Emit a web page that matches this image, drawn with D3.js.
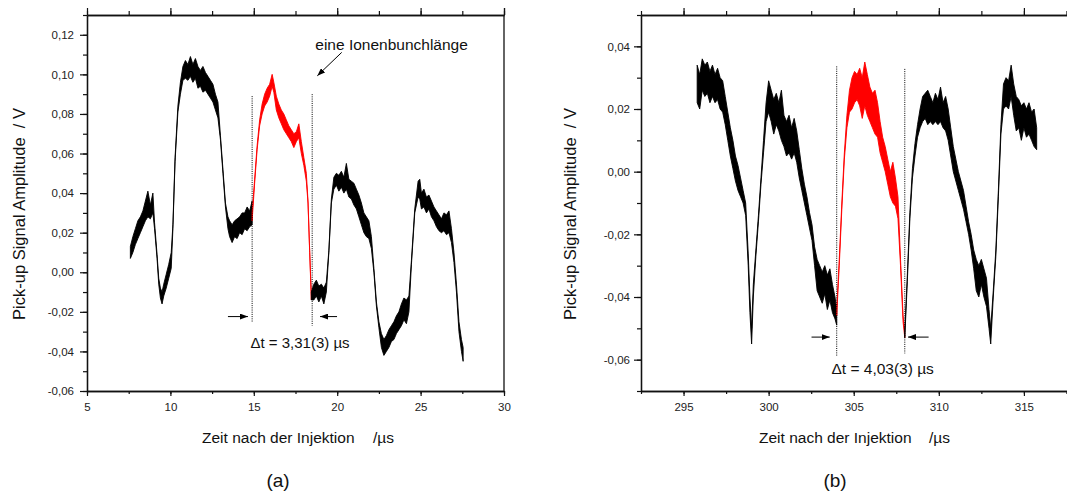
<!DOCTYPE html>
<meta charset="utf-8">
<script src="https://d3js.org/d3.v7.min.js"></script>
<style>
body{margin:0;background:#fff}
svg{display:block;font-family:"Liberation Sans",Arial,sans-serif}
.tick line{stroke:#111;stroke-width:1.2}
.domain{stroke:#111;stroke-width:1.3}
.tick text{fill:#222;font-size:11.5px;font-family:"Liberation Sans",Arial,sans-serif}
</style>
<body>
<svg id="fig" width="1067" height="497"></svg>
<script>
// traces: [time µs, lower edge V, upper edge V] (noise band)
var aBlack1 = [[7.60,0.007,0.013],[7.75,0.010,0.018],[7.90,0.014,0.022],[8.05,0.017,0.026],[8.20,0.020,0.028],
  [8.35,0.023,0.031],[8.50,0.026,0.036],[8.65,0.028,0.041],[8.80,0.027,0.034],[8.95,0.030,0.040],
  [9.05,0.022,0.025],[9.20,0.007,0.009],[9.30,-0.006,-0.003],[9.40,-0.013,-0.008],[9.50,-0.016,-0.010],
  [9.60,-0.012,-0.006],[9.75,-0.008,-0.001],[9.90,-0.003,0.004],[10.05,0.002,0.010],[10.15,0.022,0.024],
  [10.28,0.056,0.058],[10.45,0.081,0.084],[10.60,0.090,0.096],[10.75,0.097,0.104],[10.90,0.098,0.107],
  [11.05,0.097,0.105],[11.20,0.099,0.109],[11.35,0.096,0.105],[11.50,0.098,0.108],[11.65,0.093,0.104],
  [11.80,0.094,0.102],[11.95,0.091,0.104],[12.10,0.092,0.101],[12.25,0.090,0.099],[12.40,0.088,0.097],
  [12.55,0.086,0.095],[12.70,0.082,0.090],[12.85,0.078,0.086],[13.00,0.067,0.069],[13.15,0.050,0.052],
  [13.30,0.033,0.035],[13.45,0.022,0.028],[13.55,0.018,0.026],[13.70,0.015,0.024],[13.85,0.018,0.026],
  [14.00,0.017,0.027],[14.15,0.020,0.028],[14.30,0.019,0.030],[14.45,0.022,0.030],[14.60,0.021,0.033],
  [14.75,0.023,0.031],[14.90,0.024,0.036]];
var aRed = [[14.90,0.026,0.030],[15.05,0.045,0.047],[15.20,0.062,0.064],[15.35,0.074,0.077],[15.50,0.080,0.085],
  [15.65,0.084,0.090],[15.80,0.086,0.093],[15.95,0.089,0.095],[16.10,0.094,0.100],[16.20,0.091,0.096],
  [16.35,0.082,0.089],[16.50,0.078,0.085],[16.65,0.075,0.082],[16.80,0.072,0.080],[16.95,0.070,0.077],
  [17.10,0.068,0.074],[17.25,0.066,0.072],[17.40,0.063,0.070],[17.55,0.066,0.071],[17.70,0.068,0.075],
  [17.85,0.060,0.066],[18.00,0.054,0.058],[18.15,0.046,0.050],[18.25,0.035,0.036],[18.35,0.010,0.011],
  [18.45,-0.014,-0.012]];
var aBlack2 = [[18.45,-0.014,-0.010],[18.60,-0.014,-0.006],[18.75,-0.012,-0.004],[18.90,-0.015,-0.007],
  [19.05,-0.012,-0.006],[19.20,-0.016,-0.008],[19.35,-0.010,-0.005],[19.50,0.010,0.011],[19.65,0.035,0.037],
  [19.80,0.042,0.048],[19.95,0.044,0.050],[20.10,0.041,0.049],[20.25,0.043,0.051],[20.40,0.040,0.048],
  [20.55,0.042,0.055],[20.70,0.038,0.047],[20.85,0.037,0.046],[21.00,0.034,0.045],[21.15,0.032,0.042],
  [21.30,0.028,0.039],[21.45,0.024,0.035],[21.60,0.020,0.030],[21.75,0.018,0.028],[21.90,0.017,0.026],
  [22.05,0.012,0.018],[22.20,0.000,0.002],[22.35,-0.017,-0.015],[22.50,-0.028,-0.025],[22.65,-0.038,-0.031],
  [22.80,-0.042,-0.034],[22.95,-0.040,-0.032],[23.10,-0.038,-0.029],[23.25,-0.035,-0.027],[23.40,-0.034,-0.025],
  [23.55,-0.031,-0.022],[23.70,-0.029,-0.020],[23.85,-0.027,-0.016],[24.00,-0.024,-0.013],[24.15,-0.026,-0.014],
  [24.30,-0.020,-0.012],[24.45,0.004,0.006],[24.65,0.030,0.032],[24.85,0.038,0.046],[24.95,0.037,0.047],
  [25.05,0.032,0.040],[25.20,0.033,0.042],[25.35,0.030,0.038],[25.50,0.032,0.039],[25.65,0.028,0.036],
  [25.80,0.026,0.033],[25.95,0.023,0.031],[26.10,0.021,0.029],[26.25,0.020,0.027],[26.40,0.021,0.030],
  [26.55,0.019,0.029],[26.70,0.020,0.031],[26.85,0.015,0.022],[27.00,0.005,0.010],[27.15,-0.010,-0.006],
  [27.30,-0.030,-0.025],[27.45,-0.040,-0.034],[27.55,-0.045,-0.038]];

var bBlack1 = [[295.80,0.022,0.034],[295.95,0.020,0.031],[296.10,0.026,0.036],[296.25,0.024,0.034],
  [296.40,0.025,0.035],[296.55,0.022,0.032],[296.70,0.024,0.034],[296.85,0.022,0.031],[297.00,0.023,0.033],
  [297.15,0.020,0.030],[297.30,0.019,0.029],[297.45,0.015,0.024],[297.60,0.010,0.019],[297.75,0.005,0.014],
  [297.90,0.001,0.010],[298.05,-0.003,0.005],[298.20,-0.006,0.002],[298.35,-0.008,-0.002],[298.50,-0.010,-0.006],
  [298.65,-0.014,-0.010],[298.80,-0.030,-0.026],[298.90,-0.045,-0.040],[299.00,-0.055,-0.050],
  [299.10,-0.040,-0.036],[299.25,-0.027,-0.025],[299.40,-0.016,-0.014],[299.55,-0.004,-0.002],
  [299.70,0.006,0.010],[299.85,0.016,0.022],[300.00,0.019,0.029],[300.15,0.016,0.026],[300.30,0.012,0.023],
  [300.45,0.015,0.025],[300.60,0.013,0.022],[300.75,0.010,0.026],[300.90,0.008,0.018],[301.05,0.005,0.016],
  [301.20,0.006,0.018],[301.35,0.004,0.014],[301.50,0.006,0.017],[301.65,0.003,0.013],[301.80,-0.002,0.007],
  [301.95,-0.006,0.001],[302.10,-0.010,-0.004],[302.25,-0.014,-0.008],[302.40,-0.018,-0.013],
  [302.55,-0.022,-0.017],[302.70,-0.030,-0.024],[302.85,-0.038,-0.028],[303.00,-0.040,-0.030],
  [303.15,-0.042,-0.032],[303.30,-0.039,-0.030],[303.45,-0.044,-0.033],[303.60,-0.041,-0.031],
  [303.75,-0.045,-0.036],[303.90,-0.047,-0.040],[304.00,-0.049,-0.044]];
var bRed = [[304.00,-0.046,-0.044],[304.15,-0.030,-0.028],[304.30,-0.012,-0.010],[304.45,0.004,0.006],
  [304.60,0.014,0.018],[304.75,0.019,0.026],[304.90,0.020,0.030],[305.05,0.022,0.032],[305.20,0.023,0.031],
  [305.35,0.021,0.033],[305.50,0.017,0.030],[305.65,0.021,0.035],[305.80,0.018,0.031],[305.95,0.016,0.027],
  [306.10,0.014,0.025],[306.25,0.012,0.026],[306.40,0.011,0.022],[306.55,0.006,0.016],[306.70,0.003,0.011],
  [306.85,0.000,0.008],[307.00,-0.004,0.004],[307.15,-0.008,0.000],[307.30,-0.010,0.003],[307.45,-0.011,-0.002],
  [307.60,-0.015,-0.008],[307.75,-0.030,-0.028],[307.90,-0.048,-0.046],[308.00,-0.053,-0.051]];
var bBlack2 = [[308.00,-0.053,-0.051],[308.15,-0.035,-0.033],[308.30,-0.015,-0.013],[308.45,-0.002,0.001],
  [308.60,0.005,0.009],[308.75,0.011,0.015],[308.90,0.014,0.020],[309.05,0.016,0.024],[309.20,0.017,0.025],
  [309.35,0.015,0.026],[309.50,0.016,0.024],[309.65,0.015,0.022],[309.80,0.016,0.025],[309.95,0.015,0.023],
  [310.10,0.016,0.027],[310.25,0.014,0.022],[310.40,0.013,0.024],[310.55,0.010,0.020],[310.70,0.005,0.014],
  [310.85,0.000,0.008],[311.00,-0.003,0.004],[311.15,-0.006,0.000],[311.30,-0.009,-0.003],
  [311.45,-0.012,-0.006],[311.60,-0.016,-0.011],[311.75,-0.020,-0.016],[311.90,-0.025,-0.020],
  [312.05,-0.031,-0.025],[312.20,-0.038,-0.028],[312.35,-0.040,-0.030],[312.50,-0.036,-0.028],
  [312.65,-0.040,-0.031],[312.80,-0.043,-0.034],[312.95,-0.050,-0.044],[313.05,-0.055,-0.050],
  [313.20,-0.040,-0.038],[313.35,-0.027,-0.025],[313.50,-0.008,-0.006],[313.65,0.012,0.015],
  [313.80,0.020,0.028],[313.95,0.021,0.030],[314.10,0.020,0.029],[314.25,0.024,0.034],[314.40,0.018,0.028],
  [314.55,0.013,0.024],[314.70,0.014,0.023],[314.85,0.010,0.021],[315.00,0.014,0.022],[315.15,0.011,0.020],
  [315.30,0.012,0.022],[315.45,0.010,0.019],[315.60,0.008,0.020],[315.75,0.007,0.014]];

// ticks
var aXTicks = [5, 10, 15, 20, 25, 30];
var aYTicks = [-0.06, -0.04, -0.02, 0, 0.02, 0.04, 0.06, 0.08, 0.10, 0.12];
var bXTicks = [295, 300, 305, 310, 315];
var bYTicks = [-0.06, -0.04, -0.02, 0, 0.02, 0.04];

// annotation marks (data coordinates)
var aCuts = [[14.9, 0.089, -0.025], [18.5, 0.090, -0.027]];
var bCuts = [[304.0, 0.0336, -0.059], [308.0, 0.0328, -0.058]];

var de = d3.formatLocale({decimal: ",", thousands: ".", grouping: [3], currency: ["", "€"], minus: "-"});

var svg = d3.select("#fig");
var defs = svg.append("defs");
defs.append("marker").attr("id", "head")
    .attr("viewBox", "0 0 8 6").attr("refX", 8).attr("refY", 3)
    .attr("markerWidth", 8).attr("markerHeight", 6)
    .attr("markerUnits", "userSpaceOnUse").attr("orient", "auto")
  .append("path").attr("d", "M0,0L8,3L0,6Z").attr("fill", "#000");

function panel(o) {
  var x = d3.scaleLinear().domain(o.xDom).range([o.left, o.right]);
  var y = d3.scaleLinear().domain(o.yDom).range([o.bottom, o.top]);
  var g = svg.append("g");

  var band = d3.area().x(function(d){return x(d[0]);})
      .y0(function(d){return y(d[1]);}).y1(function(d){return y(d[2]);});
  o.traces.forEach(function(tr) {
    g.append("path").datum(tr[0]).attr("d", band)
      .attr("fill", tr[1]).attr("stroke", tr[1]).attr("stroke-width", 0.9)
      .attr("stroke-linejoin", "round");
  });

  var xMinor = d3.range(0, 11).map(function(i){return o.xDom[0] + i * 2.5;});
  var y0 = Math.round(o.yDom[0] * 100), y1 = Math.round(o.yDom[1] * 100);
  var yMinor = d3.range(y0, y1 + 1).map(function(i){return i / 100;});

  // bottom
  g.append("g").attr("transform", "translate(0," + o.bottom + ")")
    .call(d3.axisBottom(x).tickValues(xMinor).tickSize(3).tickSizeOuter(0).tickFormat(""));
  g.append("g").attr("transform", "translate(0," + o.bottom + ")")
    .call(d3.axisBottom(x).tickValues(o.xTicks).tickSize(5).tickSizeOuter(0).tickPadding(7).tickFormat(d3.format("d")));
  // top
  g.append("g").attr("transform", "translate(0," + o.top + ")")
    .call(d3.axisTop(x).tickValues(xMinor).tickSize(4).tickSizeOuter(0).tickFormat(""));
  g.append("g").attr("transform", "translate(0," + o.top + ")")
    .call(d3.axisTop(x).tickValues(o.xTicks.concat([o.xDom[1]])).tickSize(7).tickSizeOuter(0).tickFormat(""));
  // left
  g.append("g").attr("transform", "translate(" + o.left + ",0)")
    .call(d3.axisLeft(y).tickValues(yMinor).tickSize(4).tickSizeOuter(0).tickFormat(""));
  g.append("g").attr("transform", "translate(" + o.left + ",0)")
    .call(d3.axisLeft(y).tickValues(o.yTicks).tickSize(7).tickSizeOuter(0).tickPadding(o.pad).tickFormat(de.format(".2f")));
  // right frame
  g.append("line").attr("x1", o.right).attr("x2", o.right).attr("y1", o.top).attr("y2", o.bottom)
    .attr("stroke", "#111").attr("stroke-width", 1.3);

  // cut lines
  o.cuts.forEach(function(c) {
    g.append("line").attr("x1", x(c[0])).attr("x2", x(c[0])).attr("y1", y(c[1])).attr("y2", y(c[2]))
      .attr("stroke", "#000").attr("stroke-width", 1).attr("stroke-dasharray", "1,1.2");
  });
  // arrows
  o.arrows.forEach(function(a) {
    g.append("line").attr("x1", x(a[0])).attr("y1", y(a[1])).attr("x2", x(a[2])).attr("y2", y(a[3]))
      .attr("stroke", "#000").attr("stroke-width", 1).attr("marker-end", "url(#head)");
  });
  // notes
  o.notes.forEach(function(n) {
    g.append("text").attr("x", x(n[0])).attr("y", y(n[1])).attr("text-anchor", "middle")
      .style("font-size", n[3]).attr("fill", "#111").text(n[2]);
  });

  // axis titles
  g.append("text").attr("x", o.xTitle[0]).attr("y", 443).style("font-size", "15.5px").attr("fill", "#111")
    .text("Zeit nach der Injektion");
  g.append("text").attr("x", o.xTitle[1]).attr("y", 443).style("font-size", "15.5px").attr("fill", "#111")
    .text("/µs");
  g.append("text").attr("transform", "translate(" + o.yTitle + ",214) rotate(-90)")
    .attr("text-anchor", "middle").attr("dy", "0.35em").style("font-size", "16.5px").attr("fill", "#111")
    .style("white-space", "pre").text("Pick-up Signal Amplitude  / V");
  g.append("text").attr("x", o.tag[0]).attr("y", 487).attr("text-anchor", "middle")
    .style("font-size", "19px").attr("fill", "#111").text(o.tag[1]);
}

panel({
  left: 87, right: 504, top: 15, bottom: 391,
  xDom: [5, 30], yDom: [-0.06, 0.13], xTicks: aXTicks, yTicks: aYTicks, pad: 6,
  traces: [[aBlack1, "#000"], [aRed, "#ff0000"], [aBlack2, "#000"]],
  cuts: aCuts,
  arrows: [[13.45, -0.0224, 14.65, -0.0224], [19.99, -0.0224, 18.97, -0.0224], [20.27, 0.1111, 18.81, 0.0993]],
  notes: [[23.26, 0.1125, "eine Ionenbunchlänge", "15.5px"], [17.77, -0.0385, "Δt = 3,31(3) µs", "15px"]],
  xTitle: [202, 373], yTitle: 19, tag: [278, "(a)"]
});

panel({
  left: 641, right: 1109, top: 15, bottom: 391,
  xDom: [292.5, 320], yDom: [-0.07, 0.05], xTicks: bXTicks, yTicks: bYTicks, pad: 4,
  traces: [[bBlack1, "#000"], [bRed, "#ff0000"], [bBlack2, "#000"]],
  cuts: bCuts,
  arrows: [[302.52, -0.0528, 303.59, -0.0528], [309.40, -0.0528, 308.19, -0.0528]],
  notes: [[306.7, -0.0647, "Δt = 4,03(3) µs", "15.5px"]],
  xTitle: [759, 929], yTitle: 570, tag: [835, "(b)"]
});
</script>
</body>
